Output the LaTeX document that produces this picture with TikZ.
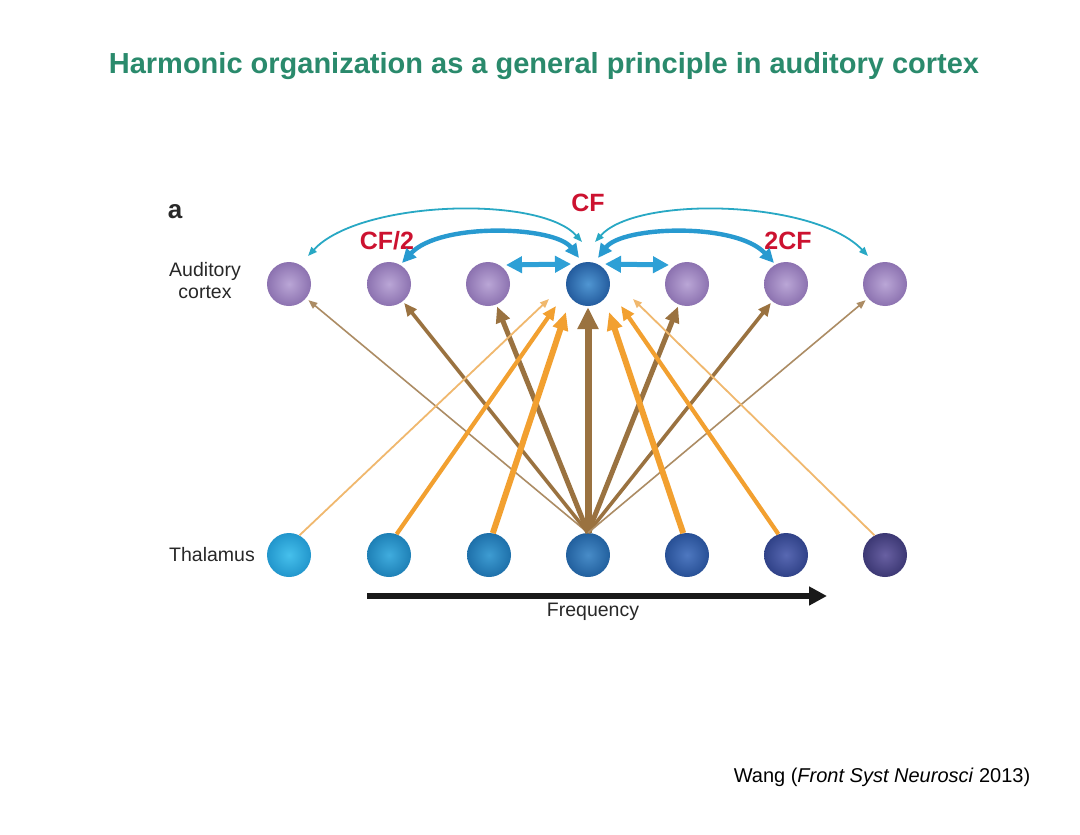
\documentclass[tikz,border=0pt]{standalone}
\usepackage{fontspec}
\setmainfont{Liberation Sans}
\usetikzlibrary{arrows.meta,shapes.geometric,calc}

\definecolor{titlegreen}{RGB}{42,138,108}
\definecolor{labelred}{RGB}{204,18,48}
\definecolor{ctxin}{RGB}{186,166,214}
\definecolor{ctxout}{RGB}{140,114,176}
\definecolor{cfin}{RGB}{80,150,210}
\definecolor{cfout}{RGB}{36,92,158}
\definecolor{brownA}{RGB}{154,114,64}
\definecolor{brownL}{RGB}{172,140,100}
\definecolor{orangeA}{RGB}{242,160,48}
\definecolor{orangeL}{RGB}{240,184,110}
\definecolor{arcthin}{RGB}{40,168,196}
\definecolor{arcthick}{RGB}{40,154,208}
\definecolor{dblarr}{RGB}{46,160,214}
\definecolor{txtgray}{RGB}{40,40,40}
\definecolor{tA}{RGB}{70,192,236}
\definecolor{tAo}{RGB}{34,150,204}
\definecolor{tB}{RGB}{64,172,222}
\definecolor{tBo}{RGB}{30,128,182}
\definecolor{tC}{RGB}{62,156,210}
\definecolor{tCo}{RGB}{30,112,170}
\definecolor{tD}{RGB}{72,140,200}
\definecolor{tDo}{RGB}{34,96,158}
\definecolor{tE}{RGB}{78,120,192}
\definecolor{tEo}{RGB}{40,80,150}
\definecolor{tF}{RGB}{88,104,178}
\definecolor{tFo}{RGB}{48,66,136}
\definecolor{tG}{RGB}{104,96,162}
\definecolor{tGo}{RGB}{60,56,116}

\tikzset{
  cell/.style={circle, minimum size=44pt, inner sep=0pt},
  ctx/.style={cell, inner color=ctxin, outer color=ctxout},
  thal/.style 2 args={cell, inner color=#1, outer color=#2},
  lbl/.style={inner sep=0pt, text=txtgray, font=\fontsize{19.5}{22}\selectfont, align=center},
  redlbl/.style={inner sep=0pt, text=labelred, font=\fontsize{25}{28}\selectfont\bfseries},
  brthick/.style={draw=brownA, line width=7pt, -{Triangle[length=22pt,width=20pt]}, shorten >=1pt},
  brmed/.style={draw=brownA, line width=5pt, -{Triangle[length=16pt,width=14pt]}, shorten >=2pt},
  brsm/.style={draw=brownA, line width=3.6pt, -{Triangle[length=13pt,width=11pt]}, shorten >=2pt},
  brthin/.style={draw=brownL, line width=1.6pt, -{Triangle[length=9pt,width=7pt]}, shorten >=3pt},
  orthick/.style={draw=orangeA, line width=6pt, -{Triangle[length=18pt,width=15pt]}},
  ormed/.style={draw=orangeA, line width=4.2pt, -{Triangle[length=14pt,width=12pt]}},
  orthin/.style={draw=orangeL, line width=1.8pt, -{Triangle[length=9pt,width=7pt]}},
  thinarc/.style={draw=arcthin, line width=1.8pt, {Triangle[length=9pt,width=7pt]}-{Triangle[length=9pt,width=7pt]}},
  thickarc/.style={draw=arcthick, line width=4.4pt, {Triangle[length=14pt,width=13pt]}-{Triangle[length=14pt,width=13pt]}},
  dbl/.style={draw=dblarr, line width=5pt, {Triangle[length=16pt,width=16pt]}-{Triangle[length=16pt,width=16pt]}},
  freqarrow/.style={draw=black!90, line width=6pt, -{Triangle[length=18pt,width=18pt]}}
}

\begin{document}
\begin{tikzpicture}[x=1pt,y=-1pt]
\useasboundingbox[fill=white] (0,0) rectangle (1080,835);

% title
\node[inner sep=0pt, text=titlegreen, font=\fontsize{29}{32}\selectfont\bfseries] (title) at (544,66) {Harmonic organization as a general principle in auditory cortex};

% cortex row
\node[ctx] (c1) at (289,284) {};
\node[ctx] (c2) at (389,284) {};
\node[ctx] (c3) at (488,284) {};
\node[cell, inner color=cfin, outer color=cfout] (c4) at (588,284) {};
\node[ctx] (c5) at (687,284) {};
\node[ctx] (c6) at (786,284) {};
\node[ctx] (c7) at (885,284) {};

% thalamus row
\node[thal={tA}{tAo}] (t1) at (289,555) {};
\node[thal={tB}{tBo}] (t2) at (389,555) {};
\node[thal={tC}{tCo}] (t3) at (489,555) {};
\node[thal={tD}{tDo}] (t4) at (588,555) {};
\node[thal={tE}{tEo}] (t5) at (687,555) {};
\node[thal={tF}{tFo}] (t6) at (786,555) {};
\node[thal={tG}{tGo}] (t7) at (885,555) {};

% labels
\node[inner sep=0pt, text=txtgray, font=\fontsize{26}{28}\selectfont\bfseries] (lbla) at (175,212) {a};
\node[lbl] (lblaud) at (205,281) {Auditory\\cortex};
\node[lbl] (lblthal) at (212,555) {Thalamus};
\node[lbl] (lblfreq) at (593,612) {Frequency};
\node[redlbl] (lblcf) at (588,203) {CF};
\node[redlbl] (lblcf2) at (387,241) {CF/2};
\node[redlbl] (lbl2cf) at (788,241) {2CF};
\node[inner sep=0pt, text=black, font=\fontsize{20}{22}\selectfont] (cite) at (882,777) {Wang (\textit{Front Syst Neurosci} 2013)};

% brown divergent arrows from thalamic CF neuron
\draw[brthin] (t4.north) -- (c1);
\draw[brsm] (t4.north) -- (c2);
\draw[brmed] (t4.north) -- (c3);
\draw[brthick] (t4.north) -- (c4);
\draw[brmed] (t4.north) -- (c5);
\draw[brsm] (t4.north) -- (c6);
\draw[brthin] (t4.north) -- (c7);

% orange convergent arrows onto cortical CF neuron
\coordinate (o1) at (549,299);
\coordinate (o2) at (556,306);
\coordinate (o3) at (566,312);
\coordinate (o5) at (609,312);
\coordinate (o6) at (621,306);
\coordinate (o7) at (633,299);
\draw[orthin] (t1.62) -- (o1);
\draw[ormed] (t2.70) -- (o2);
\draw[orthick] (t3.80) -- (o3);
\draw[orthick] (t5.100) -- (o5);
\draw[ormed] (t6.110) -- (o6);
\draw[orthin] (t7.118) -- (o7);

% horizontal connections in cortex
\coordinate (aL1) at (582,242);
\coordinate (aL2) at (308,256);
\coordinate (aR1) at (595,242);
\coordinate (aR2) at (868,256);
\draw[thinarc] (aL1) .. controls (540,195) and (360,200) .. (aL2);
\draw[thinarc] (aR1) .. controls (637,195) and (815,200) .. (aR2);
\coordinate (bL1) at (579,258);
\coordinate (bL2) at (402,263);
\coordinate (bR1) at (598,258);
\coordinate (bR2) at (774,263);
\draw[thickarc] (bL1) .. controls (555,226) and (440,222) .. (bL2);
\draw[thickarc] (bR1) .. controls (622,226) and (736,222) .. (bR2);
\coordinate (dL1) at (506,265);
\coordinate (dL2) at (571,264);
\coordinate (dR1) at (605,264);
\coordinate (dR2) at (669,265);
\draw[dbl] (dL1) -- (dL2);
\draw[dbl] (dR1) -- (dR2);

% frequency axis
\coordinate (fs) at (367,596);
\coordinate (fe) at (827,596);
\draw[freqarrow] (fs) -- (fe);
\end{tikzpicture}
\end{document}
